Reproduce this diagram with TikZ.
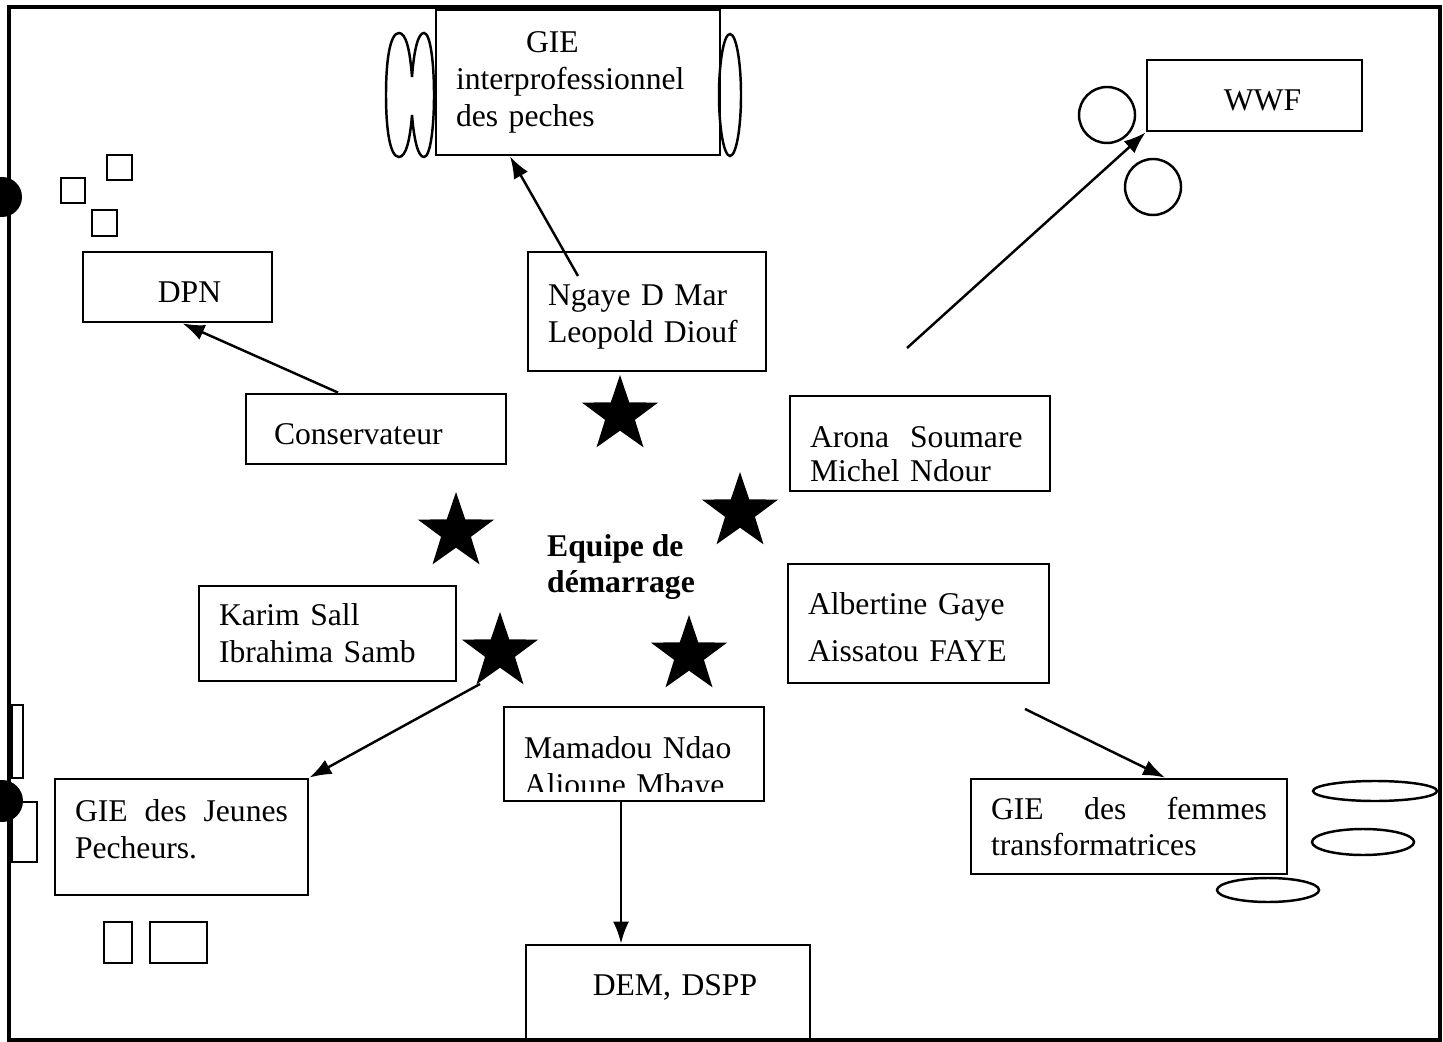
\documentclass[tikz,border=0pt]{standalone}
\usepackage{fontspec}
\setmainfont{Liberation Serif}
\usetikzlibrary{arrows.meta, shapes.geometric, calc}

\begin{document}
\begin{tikzpicture}[x=0.1mm, y=-0.1mm, line width=0.7pt,
	>={Latex[length=2.2mm,width=1.6mm]},
	box/.style={draw, line width=0.8pt, inner xsep=2mm, inner ysep=0pt, align=left, font=\fontsize{9}{10.5}\selectfont},
	starnode/.style={star, star points=5, star point ratio=2.55, fill=black, inner sep=0pt, minimum size=8mm}]
		\useasboundingbox (0,0) rectangle (1443,1042);
		\draw[line width=0.9pt] (9,7) rectangle (1440,1040);

		\draw (578,82.5) node[box, text width=24.4mm, minimum height=14.5mm] (gie) {\hspace*{7mm}GIE\\interprofessionnel\\des peches}
		(1254.5,95.5) node[box, align=center, text width=17.5mm, minimum height=7.1mm, text height=8.9pt] (wwf) {\hspace*{1.6mm}WWF}
		(177.5,287) node[box, align=center, text width=14.9mm, minimum height=7mm, text height=8.9pt] (dpn) {\hspace*{2.4mm}DPN}
		(647,311.5) node[box, text width=19.8mm, minimum height=11.9mm, text height=8.9pt] (ngaye) {Ngaye D Mar\\Leopold Diouf}
		(376,429) node[box, text width=22mm, minimum height=7mm, text height=8.9pt] (cons) {\hspace*{0.8mm}Conservateur}
		(920,443.5) node[box, text width=22mm, minimum height=9.5mm, text height=12pt, font=\fontsize{9}{9.7}\selectfont] (arona) {Arona\ \ Soumare\\Michel Ndour}
		(918.5,623.5) node[box, text width=22.1mm, minimum height=11.9mm, text height=8.4pt] (albert) {Albertine Gaye\\[3pt]Aissatou FAYE}
		(327.5,633.5) node[box, text width=21.7mm, minimum height=9.5mm] (karim) {Karim Sall\\Ibrahima Samb}
		(634,754) node[box, text width=22mm, minimum height=9.4mm] (mamadou) {}
		(181.5,837) node[box, text width=21.3mm, minimum height=11.6mm, text depth=15.1pt] (jeunes) {GIE\hfill des\hfill Jeunes\\Pecheurs.}
		(1129,826.5) node[box, text width=27.6mm, minimum height=9.5mm] (femmes) {GIE\hfill des\hfill femmes\\transformatrices}
		(668,992.5) node[box, align=center, text width=24.4mm, minimum height=9.5mm, text depth=4.3pt] (dem) {\hspace*{1.4mm}DEM, DSPP};

		% texte coupe par le bas du cadre
		\begin{scope}
			\clip (mamadou.north west) rectangle ($(mamadou.south east)+(0,-11)$);
			\node[box, draw=none, text width=22mm] (mamtext) at (634,769) {Mamadou Ndao\\Alioune Mbaye};
		\end{scope}

		\node[box, draw=none, font=\fontsize{9}{10.5}\selectfont\bfseries] (equipe) at (621,567) {Equipe de\\d\'emarrage};

		\node[starnode] (s1) at (620,415) {};
		\node[starnode] (s2) at (740,512) {};
		\node[starnode] (s3) at (456,532) {};
		\node[starnode] (s4) at (500,652) {};
		\node[starnode] (s5) at (689,655) {};

		\coordinate (ngtail) at (578,276);
		\coordinate (wwftail) at (907,348);
		\coordinate (jtail) at (480,684);
		\coordinate (ftail) at (1025,709);

		\draw[->] (ngtail) -- ($(gie.south)+(-68,0)$);
		\draw[->] ($(cons.north)+(-38,0)$) -- ($(dpn.south)+(5,0)$);
		\draw[->] (wwftail) -- (wwf.south west);
		\draw[->] (jtail) -- (jeunes.north east);
		\draw[->] ($(mamadou.south)+(-13,0)$) -- ($(dem.north)+(-47,0)$);
		\draw[->] (ftail) -- ($(femmes.north)+(36,0)$);

		% decor autour des cadres
		\draw (412,77) .. controls (410,50) and (406,33) .. (399,33) .. controls (390,33) and (386,60) .. (386,95)
			.. controls (386,130) and (390,157) .. (399,157) .. controls (406,157) and (410,140) .. (412,115)
			.. controls (414,140) and (418,157) .. (424,157) .. controls (430,157) and (434,130) .. (434,95)
			.. controls (434,60) and (430,33) .. (424,33) .. controls (418,33) and (414,50) .. (412,77);
		\draw (730,95) ellipse[x radius=11, y radius=61];
		\draw (1107,115) circle[radius=28];
		\draw (1153,187) circle[radius=28];
		\draw (1375,791) ellipse[x radius=62, y radius=10];
		\draw (1363,842) ellipse[x radius=51, y radius=13];
		\draw (1268,890) ellipse[x radius=51, y radius=12];
		\draw (107,155) rectangle (132,180);
		\draw (61,178) rectangle (85,203);
		\draw (92,210) rectangle (117,236);
		\draw (12,705) rectangle (23,778);
		\draw (12,802) rectangle (37,862);
		\draw (104,922) rectangle (132,963);
		\draw (150,922) rectangle (207,963);
		\fill (2,197) circle[radius=20];
		\fill (2,801) circle[radius=21];
	\end{tikzpicture}
\end{document}
